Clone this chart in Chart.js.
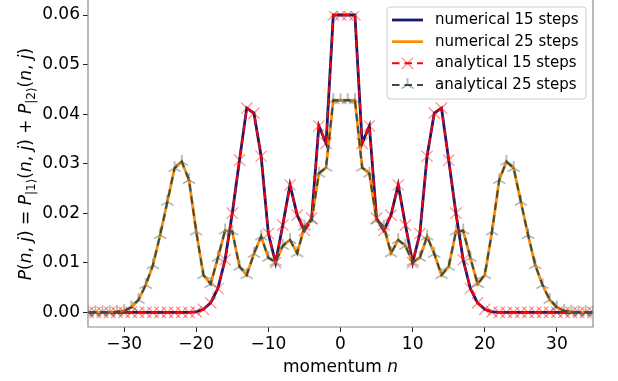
<!DOCTYPE html>
<html><head><meta charset="utf-8">
<script src="https://cdn.jsdelivr.net/npm/chart.js@4.4.1/dist/chart.umd.min.js"></script>
<style>html,body{margin:0;padding:0;background:#fff;overflow:hidden}canvas{display:block}</style>
</head><body>
<canvas id="c" width="618" height="381"></canvas>
<script>
// ---------------- data ----------------
const momentum = [-35,-34,-33,-32,-31,-30,-29,-28,-27,-26,-25,-24,-23,-22,-21,-20,-19,-18,-17,-16,-15,-14,-13,-12,-11,-10,-9,-8,-7,-6,-5,-4,-3,-2,-1,0,1,2,3,4,5,6,7,8,9,10,11,12,13,14,15,16,17,18,19,20,21,22,23,24,25,26,27,28,29,30,31,32,33,34,35];

const numerical15 = [0,0,0,0,0,0,0,0,0,0,0,0,0,0,0,
  0.0001,0.0006,0.0019,0.0048,0.0106,0.0200,0.0307,0.0412,0.0402,0.0315,0.0159,0.0100,0.0176,0.0257,0.0196,0.0165,0.0190,0.0376,0.0341,0.0600,
  0.0600,0.0600,0.0600,0.0341,0.0376,0.0190,0.0165,0.0196,0.0257,0.0176,0.0100,0.0159,0.0315,0.0402,0.0412,0.0307,0.0200,0.0106,0.0048,0.0019,0.0006,0.0001,
  0,0,0,0,0,0,0,0,0,0,0,0,0,0];

const numerical25 = [0,0,0,0,
  0.0001,0.0003,0.0010,0.0025,0.0055,0.0095,0.0156,0.0223,0.0291,0.0304,0.0267,0.0163,0.0075,0.0057,0.0110,0.0165,0.0163,0.0092,0.0075,0.0118,0.0153,0.0110,0.0101,0.0134,0.0146,0.0119,0.0173,0.0185,0.0280,0.0292,0.0428,
  0.0428,0.0428,0.0428,0.0292,0.0280,0.0185,0.0173,0.0119,0.0146,0.0134,0.0101,0.0110,0.0153,0.0118,0.0075,0.0092,0.0163,0.0165,0.0110,0.0057,0.0075,0.0163,0.0267,0.0304,0.0291,0.0223,0.0156,0.0095,0.0055,0.0025,0.0010,0.0003,0.0001,
  0,0,0];

const analytical15 = [0,0,0,0,0,0,0,0,0,0,0,0,0,0,0,
  0.0001,0.0006,0.0019,0.0048,0.0106,0.0200,0.0307,0.0412,0.0402,0.0315,0.0159,0.0100,0.0176,0.0257,0.0196,0.0165,0.0190,0.0376,0.0341,0.0600,
  0.0600,0.0600,0.0600,0.0341,0.0376,0.0190,0.0165,0.0196,0.0257,0.0176,0.0100,0.0159,0.0315,0.0402,0.0412,0.0307,0.0200,0.0106,0.0048,0.0019,0.0006,0.0001,
  0,0,0,0,0,0,0,0,0,0,0,0,0,0];

const analytical25 = [0,0,0,0,
  0.0001,0.0003,0.0010,0.0025,0.0055,0.0095,0.0156,0.0223,0.0291,0.0304,0.0267,0.0163,0.0075,0.0057,0.0110,0.0165,0.0163,0.0092,0.0075,0.0118,0.0153,0.0110,0.0101,0.0134,0.0146,0.0119,0.0173,0.0185,0.0280,0.0292,0.0428,
  0.0428,0.0428,0.0428,0.0292,0.0280,0.0185,0.0173,0.0119,0.0146,0.0134,0.0101,0.0110,0.0153,0.0118,0.0075,0.0092,0.0163,0.0165,0.0110,0.0057,0.0075,0.0163,0.0267,0.0304,0.0291,0.0223,0.0156,0.0095,0.0055,0.0025,0.0010,0.0003,0.0001,
  0,0,0];

const seriesLabels = ['numerical 15 steps','numerical 25 steps','analytical 15 steps','analytical 25 steps'];
const xTicks = [-30,-20,-10,0,10,20,30];
const yTicks = [0.00,0.01,0.02,0.03,0.04,0.05,0.06];
const xTitle = 'momentum';
const xTitleVar = 'n';

// ---------------- styles ----------------
const FONT = '"DejaVu Sans", sans-serif';
const C_NUM15 = '#191970', C_NUM25 = '#ff8c00', C_ANA15 = '#ff0000', C_ANA25 = '#2f4f4f';
const X_MARK_COL = 'rgba(255,0,0,0.45)';
const TRI_MARK_COL = 'rgba(47,79,79,0.55)';
const LW_NUM = 2.8, LW_ANA = 2, DASH = [7.5, 5];
// target pixel placement of y ticks (0.06 at y=15, 0.00 at y=312.3, axes bottom 327)
const PX_TOP_TICK = 15, PX_ZERO = 312.3, PX_BOTTOM = 327;

function makeTri(){
  const cv = document.createElement('canvas');
  cv.width = 18; cv.height = 18;
  const g = cv.getContext('2d');
  const cx = 9, cy = 9, r = 7;
  g.strokeStyle = TRI_MARK_COL; g.lineWidth = 1.3; g.lineCap = 'butt';
  g.beginPath();
  g.moveTo(cx, cy); g.lineTo(cx, cy - r);
  g.moveTo(cx, cy); g.lineTo(cx - r*0.866, cy + r*0.5);
  g.moveTo(cx, cy); g.lineTo(cx + r*0.866, cy + r*0.5);
  g.stroke();
  return cv;
}
const triMarker = makeTri();

const pts = arr => momentum.map((n,i) => ({x:n, y:arr[i]}));

// ---------------- plugins ----------------
const frame = {
  id:'frame',
  afterDatasetsDraw(chart){
    const {ctx, chartArea:a} = chart;
    ctx.save();
    ctx.strokeStyle = '#8a8a8a'; ctx.lineWidth = 1.2;
    ctx.beginPath();
    ctx.moveTo(a.left, -2); ctx.lineTo(a.left, a.bottom);
    ctx.lineTo(a.right, a.bottom); ctx.lineTo(a.right, -2);
    ctx.stroke();
    ctx.restore();
  }
};

function drawSegs(ctx, segs, cx, baseY){
  const big = 17, small = 12;
  let total = 0;
  segs.forEach(s => { ctx.font = (s.it?'italic ':'') + (s.sub?small:big) + 'px ' + FONT; s.w = ctx.measureText(s.t).width; total += s.w; });
  let x = cx - total/2;
  segs.forEach(s => {
    ctx.font = (s.it?'italic ':'') + (s.sub?small:big) + 'px ' + FONT;
    ctx.fillText(s.t, x, baseY + (s.sub ? 4 : 0));
    x += s.w;
  });
}

const labels = {
  id:'labels',
  afterDraw(chart){
    const {ctx, chartArea:a} = chart;
    ctx.save();
    ctx.fillStyle = '#000';
    ctx.textBaseline = 'alphabetic'; ctx.textAlign = 'left';
    drawSegs(ctx, [{t:xTitle+' '},{t:xTitleVar,it:true}], (a.left+a.right)/2, 372);
    const fn = [{t:'('},{t:'n',it:true},{t:', '},{t:'j',it:true},{t:')'}];
    const segs = [{t:'P',it:true}, ...fn.map(o=>({...o})), {t:' = '},
      {t:'P',it:true},{t:'|1\u27E9',sub:true}, ...fn.map(o=>({...o})), {t:' + '},
      {t:'P',it:true},{t:'|2\u27E9',sub:true}, ...fn.map(o=>({...o}))];
    ctx.translate(31, 164);
    ctx.rotate(-Math.PI/2);
    drawSegs(ctx, segs, 0, 0);
    ctx.restore();

    // legend
    ctx.save();
    const lx = 387, ly = 7, lw = 199, lh = 92, rr = 3;
    ctx.beginPath();
    ctx.moveTo(lx+rr, ly); ctx.lineTo(lx+lw-rr, ly); ctx.arcTo(lx+lw, ly, lx+lw, ly+rr, rr);
    ctx.lineTo(lx+lw, ly+lh-rr); ctx.arcTo(lx+lw, ly+lh, lx+lw-rr, ly+lh, rr);
    ctx.lineTo(lx+rr, ly+lh); ctx.arcTo(lx, ly+lh, lx, ly+lh-rr, rr);
    ctx.lineTo(lx, ly+rr); ctx.arcTo(lx, ly, lx+rr, ly, rr);
    ctx.closePath();
    ctx.fillStyle = 'rgba(255,255,255,0.8)'; ctx.fill();
    ctx.strokeStyle = '#cccccc'; ctx.lineWidth = 1; ctx.stroke();
    const rows = [20, 41.7, 63.3, 85];
    const cols = [C_NUM15, C_NUM25, C_ANA15, C_ANA25];
    const h0 = 392, h1 = 423;
    rows.forEach((y,i) => {
      ctx.strokeStyle = cols[i]; ctx.lineWidth = i >= 2 ? LW_ANA : LW_NUM;
      ctx.setLineDash(i >= 2 ? DASH : []);
      ctx.beginPath(); ctx.moveTo(h0, y); ctx.lineTo(h1, y); ctx.stroke();
      ctx.setLineDash([]);
      const mx = (h0+h1)/2;
      if (i === 2) {
        const o = 8*Math.SQRT1_2;
        ctx.strokeStyle = X_MARK_COL; ctx.lineWidth = 1.2;
        ctx.beginPath(); ctx.moveTo(mx-o, y-o); ctx.lineTo(mx+o, y+o);
        ctx.moveTo(mx-o, y+o); ctx.lineTo(mx+o, y-o); ctx.stroke();
      } else if (i === 3) {
        ctx.drawImage(triMarker, mx-9, y-9);
      }
      ctx.fillStyle = '#000'; ctx.font = '15px ' + FONT;
      ctx.textBaseline = 'middle';
      ctx.fillText(seriesLabels[i], 435, y);
    });
    ctx.restore();
  }
};

// ---------------- chart ----------------
const fmtX = v => (v < 0 ? '\u2212' + Math.abs(v) : String(v));

const chart = new Chart(document.getElementById('c'), {
  type:'line',
  data:{
    datasets:[
      {label:seriesLabels[0], data:pts(numerical15), borderColor:C_NUM15, borderWidth:LW_NUM, pointRadius:0, tension:0, order:4},
      {label:seriesLabels[1], data:pts(numerical25), borderColor:C_NUM25, borderWidth:LW_NUM, pointRadius:0, tension:0, order:3},
      {label:seriesLabels[2], data:pts(analytical15), borderColor:C_ANA15, borderWidth:LW_ANA, borderDash:DASH, tension:0, order:2,
        pointStyle:'crossRot', pointRadius:8, pointBorderColor:X_MARK_COL, pointBorderWidth:1.2, pointBackgroundColor:'transparent'},
      {label:seriesLabels[3], data:pts(analytical25), borderColor:C_ANA25, borderWidth:LW_ANA, borderDash:DASH, tension:0, order:1,
        pointStyle:triMarker, pointRadius:9}
    ]
  },
  options:{
    responsive:false, devicePixelRatio:1, animation:false,
    events:[],
    layout:{padding:{left:0, right:25, top:0, bottom:0}},
    plugins:{legend:{display:false}, tooltip:{enabled:false}},
    scales:{
      x:{
        type:'linear', min:-35, max:35,
        afterBuildTicks: s => { s.ticks = xTicks.map(v => ({value:v})); },
        afterFit: s => { s.height = 54; },
        ticks:{font:{family:FONT, size:17}, color:'#000', padding:2, maxRotation:0, callback: v => fmtX(v)},
        grid:{drawOnChartArea:false, drawTicks:true, tickLength:5, color:'#222', tickWidth:1},
        border:{display:false}
      },
      y:{
        type:'linear', min:-0.003, max:0.063,
        afterBuildTicks: s => { s.ticks = yTicks.map(v => ({value:v})); },
        afterFit: s => { s.width = 88; },
        ticks:{font:{family:FONT, size:17, lineHeight:0.05}, color:'#000', padding:3, callback: v => Number(v).toFixed(2)},
        grid:{drawOnChartArea:false, drawTicks:true, tickLength:5, color:'#222', tickWidth:1},
        border:{display:false}
      }
    }
  },
  plugins:[frame, labels]
});

// fit the y range so ticks land where they sit in the reference, whatever the chart area top turned out to be
(function(){
  const top = chart.chartArea.top;
  const topTick = yTicks[yTicks.length-1];
  const s = (PX_ZERO - PX_TOP_TICK) / topTick; // px per unit
  chart.options.scales.y.max = topTick + (PX_TOP_TICK - top) / s;
  chart.options.scales.y.min = -(PX_BOTTOM - PX_ZERO) / s;
  chart.update();
})();
</script>
</body></html>
